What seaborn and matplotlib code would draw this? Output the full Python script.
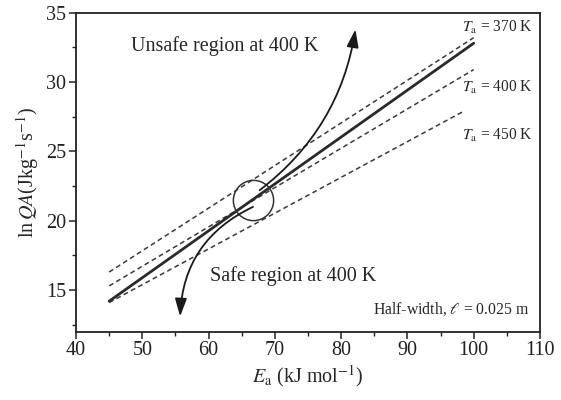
import numpy as np
import pandas as pd
import matplotlib
matplotlib.use("Agg")
import matplotlib.pyplot as plt
from matplotlib.ticker import MultipleLocator
import seaborn as sns

# ---- data ----
E_solid = [45, 100]
lnQA_solid = [14.2, 32.8]

E_370 = [45, 100]
lnQA_370 = [16.3, 33.2]

E_400 = [45, 100]
lnQA_400 = [15.3, 30.9]

E_450 = [45, 98.5]
lnQA_450 = [14.1, 27.9]

# boundary curve: lower branch (circle -> down), upper branch (circle -> up)
curve_low_start = (66.7, 21.0)
curve_low_end = (55.7, 13.1)
curve_up_start = (67.7, 22.2)
curve_up_end = (82.15, 33.8)

circle_center = (66.7, 21.5)

ta_labels = ["370 K", "400 K", "450 K"]
ta_label_y = [33.97, 29.64, 26.18]

x_ticks = [40, 50, 60, 70, 80, 90, 100, 110]
y_ticks = [15, 20, 25, 30, 35]

# ---- style ----
sns.set_theme(style="ticks")
plt.rcParams["font.family"] = ["Liberation Serif", "DejaVu Serif"]
plt.rcParams["mathtext.fontset"] = "stix"

fig = plt.figure(figsize=(5.61, 4.00), dpi=100)
ax = fig.add_axes([0.1355, 0.1708, 0.8271, 0.7974])

dash = (0, (3.2, 2.2))
for E, v, ls, lw, col in [
    (E_370, lnQA_370, dash, 1.1, "#3a3a3a"),
    (E_400, lnQA_400, dash, 1.1, "#3a3a3a"),
    (E_450, lnQA_450, dash, 1.1, "#3a3a3a"),
    (E_solid, lnQA_solid, "-", 2.0, "#2a2a2a"),
]:
    df = pd.DataFrame({"E": E, "lnQA": v})
    sns.lineplot(data=df, x="E", y="lnQA", ax=ax, color=col, lw=lw,
                 linestyle=ls, sort=False, legend=False)

# boundary curve with arrowheads (smooth arcs)
for (s, e, rad) in [(curve_low_start, curve_low_end, 0.3),
                    (curve_up_start, curve_up_end, 0.2)]:
    ax.annotate("", xy=e, xytext=s,
                arrowprops=dict(arrowstyle="-|>,head_length=0.9,head_width=0.3",
                                connectionstyle=f"arc3,rad={rad}",
                                color="#1a1a1a", lw=1.3, shrinkA=0, shrinkB=0))

ax.plot([circle_center[0]], [circle_center[1]], marker="o", ms=29,
        mfc="none", mec="#333333", mew=1.1)

# texts
ax.text(48.3, 32.6, "Unsafe region at 400 K", fontsize=14.5, va="center", ha="left")
ax.text(60.2, 16.0, "Safe region at 400 K", fontsize=14.5, va="center", ha="left")
ax.text(108.4, 13.6, "Half-width, $\\ell$ = 0.025 m", fontsize=11.3, va="center", ha="right")
for lab, yv in zip(ta_labels, ta_label_y):
    ax.text(98.2, yv, "$T_{\\rm a}$ = " + lab, fontsize=11.2, va="center", ha="left")

ax.set_xlim(40, 110)
ax.set_ylim(12, 35)
ax.set_xticks(x_ticks)
ax.set_yticks(y_ticks)
ax.xaxis.set_minor_locator(MultipleLocator(5))
ax.yaxis.set_minor_locator(MultipleLocator(2.5))
ax.tick_params(which="major", direction="out", length=5, width=1.1, labelsize=14.5,
               colors="#222222", pad=2)
ax.tick_params(which="minor", direction="out", length=3, width=1.0, colors="#222222")
ax.tick_params(top=False, right=False, which="both")
for s in ax.spines.values():
    s.set_visible(True)
    s.set_linewidth(1.3)
    s.set_color("#222222")

ax.set_xlabel("$E_{\\rm a}$ (kJ mol$^{-1}$)", fontsize=14.5, labelpad=2)
ax.set_ylabel("ln$\\,QA$(Jkg$^{-1}$s$^{-1}$)", fontsize=14.5, labelpad=4)
ax.grid(False)

fig.savefig("out.png", dpi=100, facecolor="white")
